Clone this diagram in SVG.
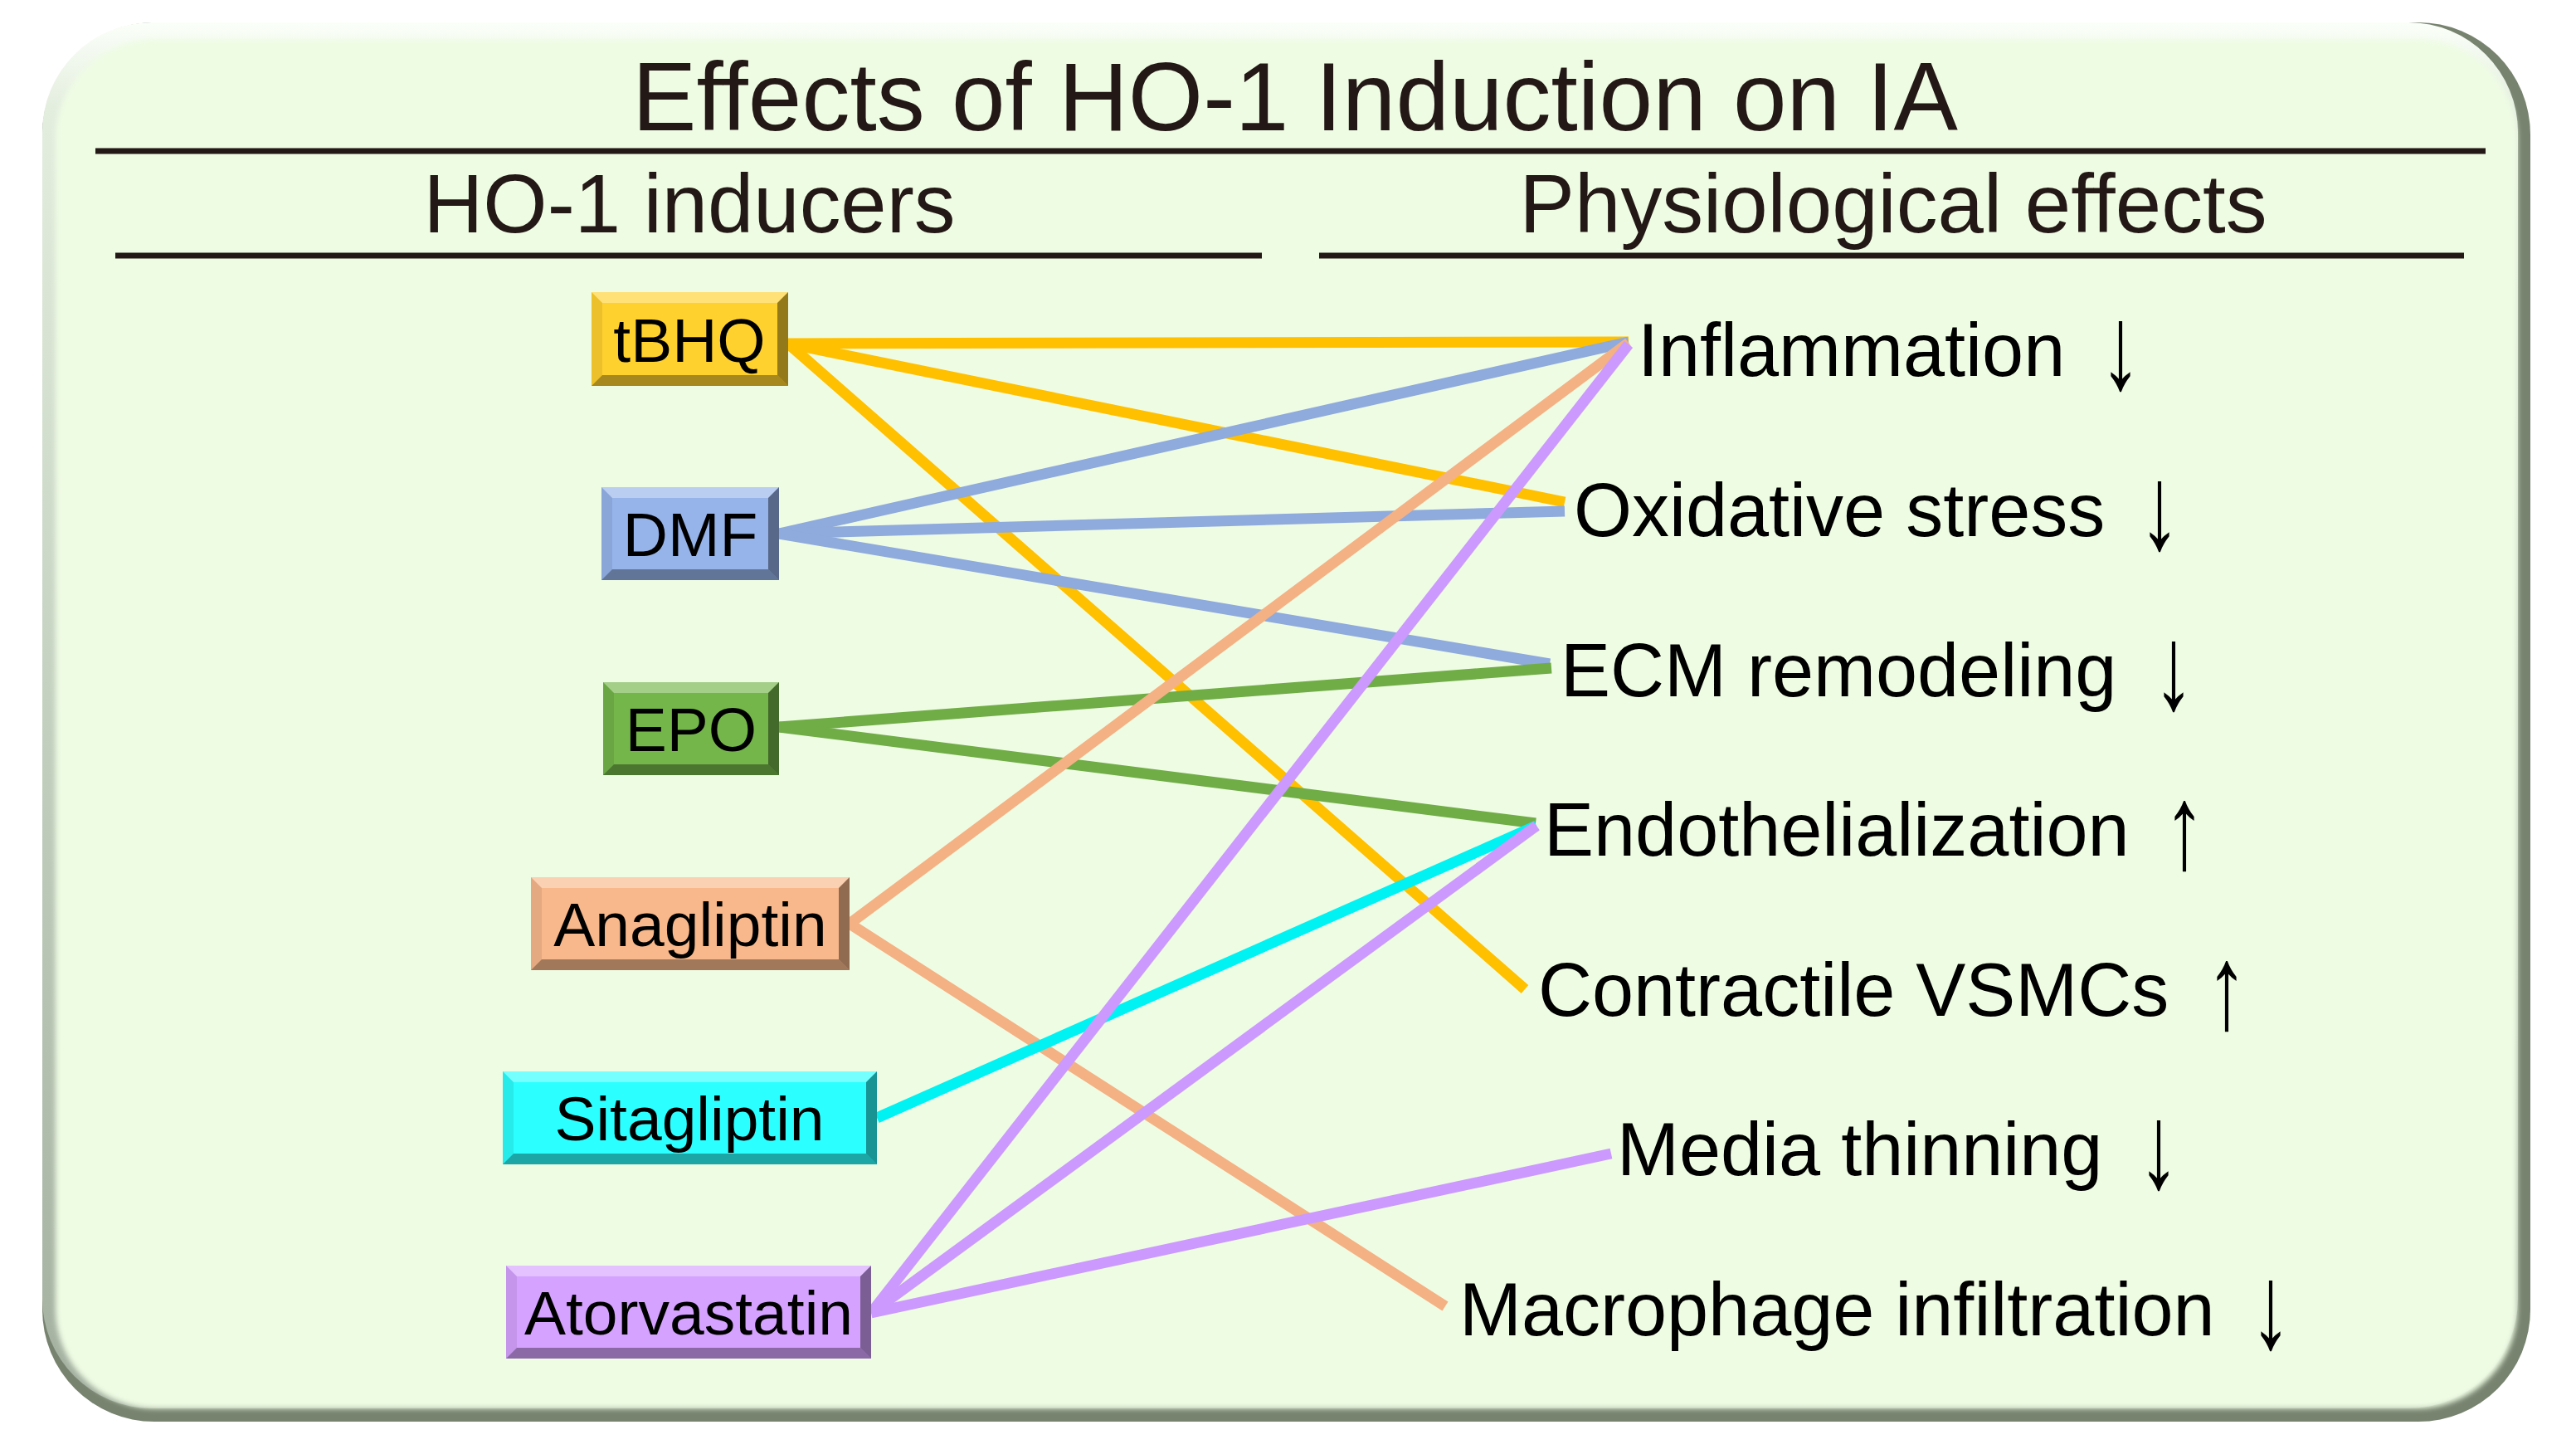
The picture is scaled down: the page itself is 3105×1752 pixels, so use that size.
<svg xmlns="http://www.w3.org/2000/svg" width="3105" height="1752" viewBox="0 0 3105 1752">
<defs>
<linearGradient id="rimLight" x1="0" y1="0" x2="0" y2="1">
<stop offset="0" stop-color="#FBFFF9"/>
<stop offset="0.06" stop-color="#E4EEDF"/>
<stop offset="0.5" stop-color="#C3D0BF"/>
<stop offset="1" stop-color="#A3AF9F"/>
</linearGradient>
<filter id="soft" x="-1%" y="-1%" width="102%" height="102%">
<feGaussianBlur stdDeviation="3"/>
</filter>
<style>
.hd{font-family:"Liberation Sans",Arial,sans-serif;fill:#231815;text-anchor:middle}
.rule{stroke:#231815;stroke-width:7}
.nt{font-family:"Liberation Sans",Arial,sans-serif;font-size:75px;fill:#000;text-anchor:middle}
.lb{font-family:"Liberation Sans",Arial,sans-serif;font-size:90px;fill:#000}
.ar{font-family:"Liberation Sans",Arial,sans-serif;font-size:90px;fill:#000;text-anchor:middle}
.bt{fill:#fff;opacity:0.35}
.bb{fill:#000;opacity:0.35}
.bl{fill:#000;opacity:0.08}
.br{fill:#000;opacity:0.42}
.c{fill:none;stroke-width:13;stroke-linecap:butt}
.y{stroke:#FFC000}.b{stroke:#8FAADC}.g{stroke:#70AD47}.o{stroke:#F4B183}.cy{stroke:#00F2F2}.p{stroke:#CC99FF}
</style>
</defs>
<rect width="3105" height="1752" fill="#FFFFFF"/>
<g id="panel">
<rect x="51" y="27" width="2999" height="1686" rx="135" fill="#77836F"/>
<rect x="51" y="27" width="2984" height="1670" rx="132" fill="url(#rimLight)"/>
<rect x="67" y="47" width="2967" height="1650" rx="120" fill="#EFFCE4" filter="url(#soft)"/>
</g>
<g id="headings">
<text class="hd" x="1561" y="157" font-size="117" textLength="1598" lengthAdjust="spacingAndGlyphs">Effects of HO-1 Induction on IA</text>
<line class="rule" x1="115" y1="182" x2="2996" y2="182"/>
<text class="hd" x="831" y="280" font-size="100" textLength="641" lengthAdjust="spacingAndGlyphs">HO-1 inducers</text>
<text class="hd" x="2282" y="280" font-size="100" textLength="901" lengthAdjust="spacingAndGlyphs">Physiological effects</text>
<line class="rule" x1="139" y1="308" x2="1521" y2="308"/>
<line class="rule" x1="1590" y1="308" x2="2970" y2="308"/>
</g>
<g id="connectors">
<line class="c y" x1="950" y1="414" x2="1963" y2="412"/>
<line class="c y" x1="950" y1="414" x2="1886" y2="605"/>
<line class="c y" x1="950" y1="414" x2="1838" y2="1192"/>
<line class="c b" x1="939" y1="643" x2="1963" y2="412"/>
<line class="c b" x1="939" y1="643" x2="1886" y2="616"/>
<line class="c b" x1="939" y1="643" x2="1868" y2="800"/>
<line class="c g" x1="939" y1="876" x2="1870" y2="805"/>
<line class="c g" x1="939" y1="876" x2="1851" y2="992"/>
<line class="c o" x1="1024" y1="1113" x2="1963" y2="413"/>
<line class="c o" x1="1024" y1="1113" x2="1742" y2="1574"/>
<line class="c cy" x1="1057" y1="1347" x2="1852" y2="995"/>
<line class="c p" x1="1050" y1="1582" x2="1963" y2="415"/>
<line class="c p" x1="1050" y1="1582" x2="1852" y2="995"/>
<line class="c p" x1="1050" y1="1582" x2="1942" y2="1390"/>
</g>
<g id="node-tBHQ">
<rect x="713" y="352" width="237" height="113" fill="#FFD12E"/>
<polygon class="bt" points="713,352 950,352 937,365 726,365"/>
<polygon class="bb" points="713,465 950,465 937,452 726,452"/>
<polygon class="bl" points="713,352 726,365 726,452 713,465"/>
<polygon class="br" points="950,352 937,365 937,452 950,465"/>
<text class="nt" x="831" y="436">tBHQ</text>
</g>
<g id="node-DMF">
<rect x="725" y="587" width="214" height="112" fill="#96B4EA"/>
<polygon class="bt" points="725,587 939,587 926,600 738,600"/>
<polygon class="bb" points="725,699 939,699 926,686 738,686"/>
<polygon class="bl" points="725,587 738,600 738,686 725,699"/>
<polygon class="br" points="939,587 926,600 926,686 939,699"/>
<text class="nt" x="832" y="670">DMF</text>
</g>
<g id="node-EPO">
<rect x="727" y="822" width="212" height="112" fill="#74B64A"/>
<polygon class="bt" points="727,822 939,822 926,835 740,835"/>
<polygon class="bb" points="727,934 939,934 926,921 740,921"/>
<polygon class="bl" points="727,822 740,835 740,921 727,934"/>
<polygon class="br" points="939,822 926,835 926,921 939,934"/>
<text class="nt" x="833" y="905">EPO</text>
</g>
<g id="node-Anagliptin">
<rect x="640" y="1057" width="384" height="112" fill="#F8B88B"/>
<polygon class="bt" points="640,1057 1024,1057 1011,1070 653,1070"/>
<polygon class="bb" points="640,1169 1024,1169 1011,1156 653,1156"/>
<polygon class="bl" points="640,1057 653,1070 653,1156 640,1169"/>
<polygon class="br" points="1024,1057 1011,1070 1011,1156 1024,1169"/>
<text class="nt" x="832" y="1140">Anagliptin</text>
</g>
<g id="node-Sitagliptin">
<rect x="606" y="1291" width="451" height="112" fill="#2BFFFF"/>
<polygon class="bt" points="606,1291 1057,1291 1044,1304 619,1304"/>
<polygon class="bb" points="606,1403 1057,1403 1044,1390 619,1390"/>
<polygon class="bl" points="606,1291 619,1304 619,1390 606,1403"/>
<polygon class="br" points="1057,1291 1044,1304 1044,1390 1057,1403"/>
<text class="nt" x="831" y="1374">Sitagliptin</text>
</g>
<g id="node-Atorvastatin">
<rect x="610" y="1525" width="440" height="112" fill="#D5A2FF"/>
<polygon class="bt" points="610,1525 1050,1525 1037,1538 623,1538"/>
<polygon class="bb" points="610,1637 1050,1637 1037,1624 623,1624"/>
<polygon class="bl" points="610,1525 623,1538 623,1624 610,1637"/>
<polygon class="br" points="1050,1525 1037,1538 1037,1624 1050,1637"/>
<text class="nt" x="830" y="1608">Atorvastatin</text>
</g>
<g id="node-inflammation"><text class="lb" x="1974" y="453">Inflammation</text><text class="ar" transform="translate(2556,468) scale(1.1,1.6)">↓</text></g>
<g id="node-oxidative"><text class="lb" x="1897" y="646">Oxidative stress</text><text class="ar" transform="translate(2603,661) scale(1.1,1.6)">↓</text></g>
<g id="node-ecm"><text class="lb" x="1881" y="839">ECM remodeling</text><text class="ar" transform="translate(2620,854) scale(1.1,1.6)">↓</text></g>
<g id="node-endothelialization"><text class="lb" x="1861" y="1031">Endothelialization</text><text class="ar" transform="translate(2633,1046) scale(1.1,1.6)">↑</text></g>
<g id="node-contractile"><text class="lb" x="1854" y="1224">Contractile VSMCs</text><text class="ar" transform="translate(2684,1239) scale(1.1,1.6)">↑</text></g>
<g id="node-media"><text class="lb" x="1949" y="1416">Media thinning</text><text class="ar" transform="translate(2602,1431) scale(1.1,1.6)">↓</text></g>
<g id="node-macrophage"><text class="lb" x="1759" y="1609">Macrophage infiltration</text><text class="ar" transform="translate(2737,1624) scale(1.1,1.6)">↓</text></g>
</svg>
